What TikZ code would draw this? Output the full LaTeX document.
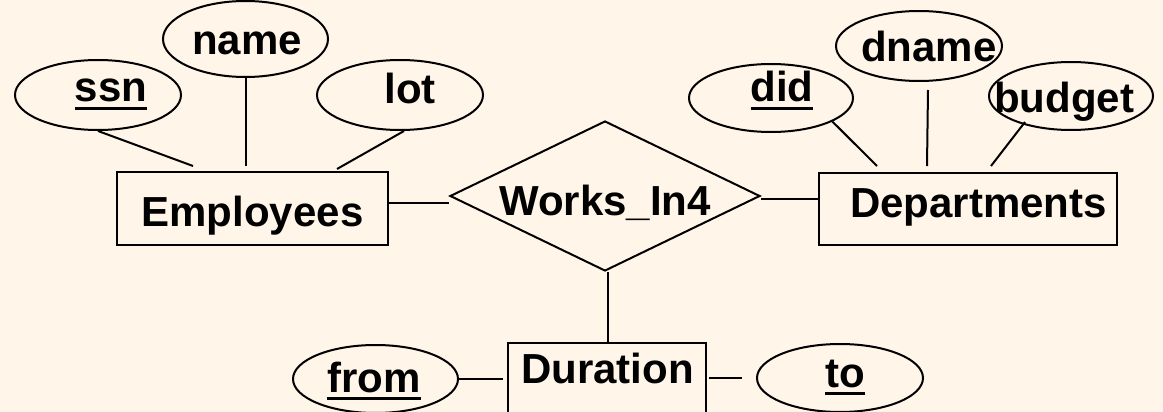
\documentclass[tikz,border=0pt]{standalone}
\usepackage{fontspec}
\setmainfont{Liberation Sans}
\usetikzlibrary{shapes.geometric,calc}
\definecolor{bgcream}{RGB}{255,245,233}
\newcommand\ulword[1]{\setbox0\hbox{#1}\rlap{\rule[-7.5pt]{\wd0}{3pt}}\box0}
\begin{document}
\begin{tikzpicture}[x=1pt,y=-1pt,line width=2pt,
  attr/.style={draw, ellipse, inner sep=0pt, minimum width=166pt, minimum height=70pt},
  ent/.style={draw, rectangle, inner sep=0pt},
  rel/.style={draw, diamond, inner sep=0pt},
  lbl/.style={anchor=base, inner sep=0pt, font=\fontsize{42}{50}\selectfont\bfseries}]
\useasboundingbox (0,0) rectangle (1163,412);
\clip (0,0) rectangle (1163,412);
\fill[bgcream] (0,0) rectangle (1163,412);

% Employees side
\node[attr] (ssn) at (98,95) {};
\node[lbl] (ssnT) at (111,102) {\ulword{ssn}};
\node[attr, minimum width=165pt, minimum height=76pt] (name) at (245.5,39) {};
\node[lbl] (nameT) at (247,55) {name};
\node[attr] (lot) at (400,95) {};
\node[lbl] (lotT) at (410,103) {lot};
\node[ent, minimum width=271pt, minimum height=73pt] (emp) at (252.5,208.5) {};
\node[lbl] (empT) at (252.5,226) {Employees};

% Relationship
\node[rel, minimum width=310pt, minimum height=150pt] (wi) at (605,196) {};
\node[lbl] (wiT) at (605,215) {Works\_In4};

% Departments side
\node[attr, minimum width=164pt, minimum height=68pt] (did) at (771,98) {};
\node[lbl] (didT) at (782,102) {\ulword{did}};
\node[attr] (dname) at (919,46) {};
\node[lbl] (dnameT) at (929,62) {dname};
\node[attr, minimum width=164pt, minimum height=68pt] (budget) at (1071,96) {};
\node[lbl] (budgetT) at (1064,113) {budget};
\node[ent, minimum width=298pt, minimum height=72pt] (dept) at (968,209) {};
\node[lbl] (deptT) at (978.5,217) {Departments};

% Duration
\node[ent, minimum width=198pt, minimum height=140pt] (dur) at (607,413) {};
\node[lbl] (durT) at (607.5,383) {Duration};
\node[attr, minimum width=165pt, minimum height=68pt] (from) at (375.5,379) {};
\node[lbl] (fromT) at (374,392) {\ulword{from}};
\node[attr, minimum height=68pt] (to) at (840,378) {};
\node[lbl] (toT) at (845,387) {\ulword{to}};

% connector end points
\coordinate (ssnE) at ($(emp.north west)+(77,-5)$);
\coordinate (nameE) at ($(emp.north west)+(130,-5)$);
\coordinate (lotE) at ($(emp.north west)+(221,-2)$);
\coordinate (empR) at ($(emp.east)+(0,-5.5)$);
\coordinate (wiL) at ($(wi.west)+(0,7)$);
\coordinate (wiR) at ($(wi.east)+(0,3)$);
\coordinate (didE) at ($(dept.north west)+(59,-6)$);
\coordinate (dnameS) at ($(dname.south)+(9,8)$);
\coordinate (dnameE) at ($(dept.north west)+(109,-6)$);
\coordinate (budS) at ($(budget.center)+(-46,26)$);
\coordinate (budE) at ($(dept.north west)+(173,-6)$);
\coordinate (wiS) at ($(wi.south)+(3,0)$);

% connectors
\draw (ssn.south) -- (ssnE);
\draw (nameE |- name.south) -- (nameE);
\draw ($(lot.south)+(4,0)$) -- (lotE);
\draw (empR) -- (wiL);
\draw (wiR) -- (wiR -| dept.west);
\draw (did.-21) -- (didE);
\draw (dnameS) -- (dnameE);
\draw (budS) -- (budE);
\draw (wiS) -- (wiS |- dur.north);
\draw[shorten >=4pt] (from.east) -- (from.east -| dur.west);
\draw ([xshift=2pt]dur.east |- to.west) -- ([xshift=-14pt]to.west);
\end{tikzpicture}
\end{document}
